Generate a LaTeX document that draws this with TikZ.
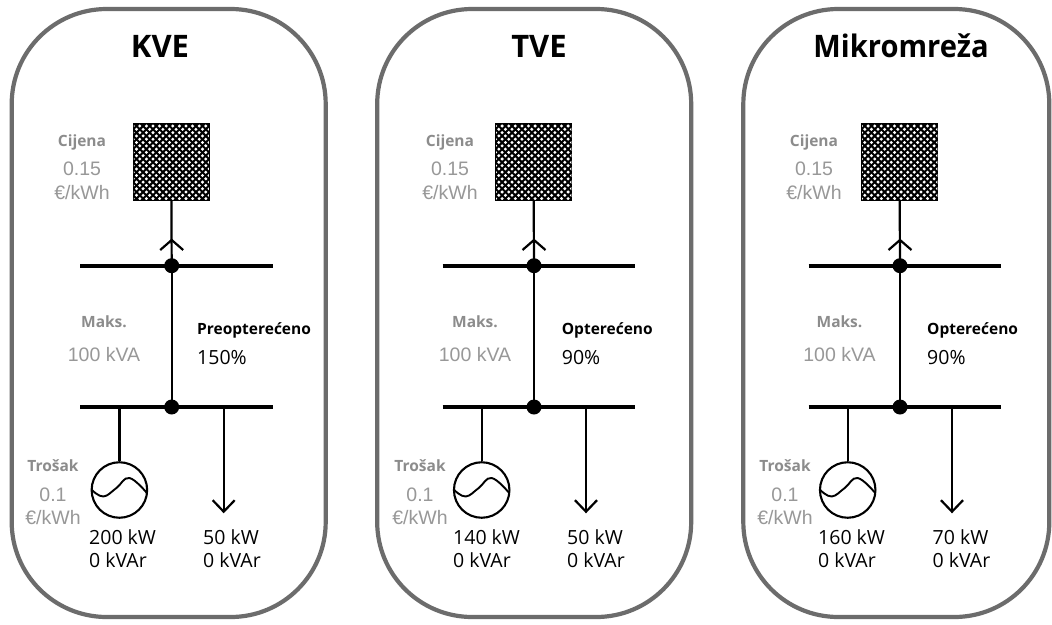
\documentclass[tikz,border=0pt]{standalone}
\usepackage{fontspec}
\setmainfont{Open Sans}
\newfontfamily\valfont{Liberation Sans}
\usetikzlibrary{calc}
\definecolor{framegray}{RGB}{108,108,108}
\definecolor{lblgray}{RGB}{140,140,140}
\definecolor{valgray}{RGB}{152,152,152}
\begin{document}
\begin{tikzpicture}[x=1pt,y=-1pt,
  frame/.style={draw=framegray, line width=4.2pt, rounded corners=95pt, fill=white, inner sep=0pt},
  bus/.style={line width=4pt},
  wire/.style={line width=2.2pt},
  junc/.style={circle, fill=black, minimum size=15pt, inner sep=0pt},
  gridsq/.style={draw=black, line width=1.5pt, fill=black, minimum width=76pt, minimum height=76pt, inner sep=0pt},
  gen/.style={circle, draw=black, line width=2.1pt, minimum size=55.5pt, inner sep=0pt},
  ttl/.style={font=\fontsize{31}{36}\selectfont\bfseries, anchor=base, inner sep=0pt},
  lbl/.style={font=\fontsize{15.5}{18}\selectfont\bfseries, text=lblgray, anchor=base, inner sep=0pt},
  gval/.style={font=\valfont\fontsize{19.5}{23}\selectfont, text=valgray, anchor=base, inner sep=0pt},
  blbl/.style={font=\fontsize{15.5}{18}\selectfont\bfseries, anchor=base west, inner sep=0pt},
  bval/.style={font=\fontsize{19.5}{23}\selectfont, anchor=base west, inner sep=0pt}
]
\useasboundingbox (0,0) rectangle (1052,624);
\clip (0,0) rectangle (1052,624);
\fill[white] (0,0) rectangle (1052,624);

% frames
\node[frame, minimum width=314pt, minimum height=608pt] (f1) at (168.7,313) {};
\node[frame, minimum width=314pt, minimum height=608pt] (f2) at (534.2,313) {};
\node[frame, minimum width=306pt, minimum height=608pt] (f3) at (896.3,313) {};

% circuits
\foreach \i/\X in {1/171.7, 2/534, 3/900}{
  \node[gridsq] (sq\i) at (\X-0.3,162) {};
  \begin{scope}
    \clip ([shift={(1.2,-1.2)}]sq\i.south west) rectangle ([shift={(-1.2,1.2)}]sq\i.north east);
    \foreach \r in {0,...,24}{
      \foreach \c in {0,...,12}{
        \fill[white] ({\X-38.5+\c*6.6+mod(\r,2)*3.3},{126+\r*3.3}) circle (1.65pt);
      }
    }
  \end{scope}
  \node[junc] (ja\i) at (\X,265.7) {};
  \node[junc] (jb\i) at (\X,407) {};
  \coordinate (ch\i) at (\X,240);
  \draw[wire] (sq\i.south) -- (ja\i.center);
  \draw[wire] (ja\i.center) -- (jb\i.center);
  \draw[wire] ($(ch\i)+(-11.5,10)$) -- (ch\i) -- ($(ch\i)+(11.5,10)$);
  \coordinate (bal\i) at (\X-91.5,265.7);
  \coordinate (bar\i) at (\X+101,265.7);
  \coordinate (bbl\i) at (\X-91.5,407);
  \coordinate (bbr\i) at (\X+101,407);
  \draw[bus] (bal\i) -- (bar\i);
  \draw[bus] (bbl\i) -- (bbr\i);
  % generator
  \node[gen] (g\i) at (\X-52.3,490) {};
  \coordinate (gt\i) at (\X-52.3,407);
  \draw[wire] (gt\i) -- (g\i.north);
  \begin{scope}[shift={(g\i.center)}]
    \draw[line width=1.9pt] plot[smooth, tension=0.7] coordinates {(-27.5,0) (-16,6.5) (-3,-2) (10,-12) (27.5,3)};
  \end{scope}
  % load
  \coordinate (lt\i) at (\X+52,407);
  \coordinate (lq\i) at (\X+52,511.7);
  \draw[wire] (lt\i) -- (lq\i);
  \draw[wire] ($(lq\i)+(-11,-11.5)$) -- (lq\i) -- ($(lq\i)+(11,-11.5)$);
}

% panel 1 texts
\node[ttl] (t1) at (160,57) {KVE};
\node[lbl] (c1) at (82,146.5) {Cijena};
\node[gval] (cp1) at (82,175) {0.15};
\node[gval] (cu1) at (82,199) {€/kWh};
\node[lbl] (m1) at (104,327) {Maks.};
\node[gval] (mv1) at (104,361) {100 kVA};
\node[blbl] (o1) at (197,334) {Preopterećeno};
\node[bval] (ov1) at (197,364) {150\%};
\node[lbl] (tr1) at (53,471.7) {Trošak};
\node[gval] (trv1) at (53,501) {0.1};
\node[gval] (tru1) at (53,524) {€/kWh};
\node[bval] (gp1) at (89,544) {200 kW};
\node[bval] (gq1) at (89,567) {0 kVAr};
\node[bval] (ldp1) at (203,544) {50 kW};
\node[bval] (ldq1) at (203,567) {0 kVAr};

% panel 2 texts
\node[ttl] (t2) at (539,57) {TVE};
\node[lbl] (c2) at (450,146.5) {Cijena};
\node[gval] (cp2) at (450,175) {0.15};
\node[gval] (cu2) at (450,199) {€/kWh};
\node[lbl] (m2) at (475,327) {Maks.};
\node[gval] (mv2) at (475,361) {100 kVA};
\node[blbl] (o2) at (561.7,334) {Opterećeno};
\node[bval] (ov2) at (561.7,364) {90\%};
\node[lbl] (tr2) at (420,471.7) {Trošak};
\node[gval] (trv2) at (420,501) {0.1};
\node[gval] (tru2) at (420,524) {€/kWh};
\node[bval] (gp2) at (453,544) {140 kW};
\node[bval] (gq2) at (453,567) {0 kVAr};
\node[bval] (ldp2) at (567,544) {50 kW};
\node[bval] (ldq2) at (567,567) {0 kVAr};

% panel 3 texts
\node[ttl, xscale=0.94] (t3) at (901,57) {Mikromreža};
\node[lbl] (c3) at (814,146.5) {Cijena};
\node[gval] (cp3) at (814,175) {0.15};
\node[gval] (cu3) at (814,199) {€/kWh};
\node[lbl] (m3) at (839.5,327) {Maks.};
\node[gval] (mv3) at (839.5,361) {100 kVA};
\node[blbl] (o3) at (927,334) {Opterećeno};
\node[bval] (ov3) at (927,364) {90\%};
\node[lbl] (tr3) at (785,471.7) {Trošak};
\node[gval] (trv3) at (785,501) {0.1};
\node[gval] (tru3) at (785,524) {€/kWh};
\node[bval] (gp3) at (818,544) {160 kW};
\node[bval] (gq3) at (818,567) {0 kVAr};
\node[bval] (ldp3) at (932.5,544) {70 kW};
\node[bval] (ldq3) at (932.5,567) {0 kVAr};
\end{tikzpicture}
\end{document}
